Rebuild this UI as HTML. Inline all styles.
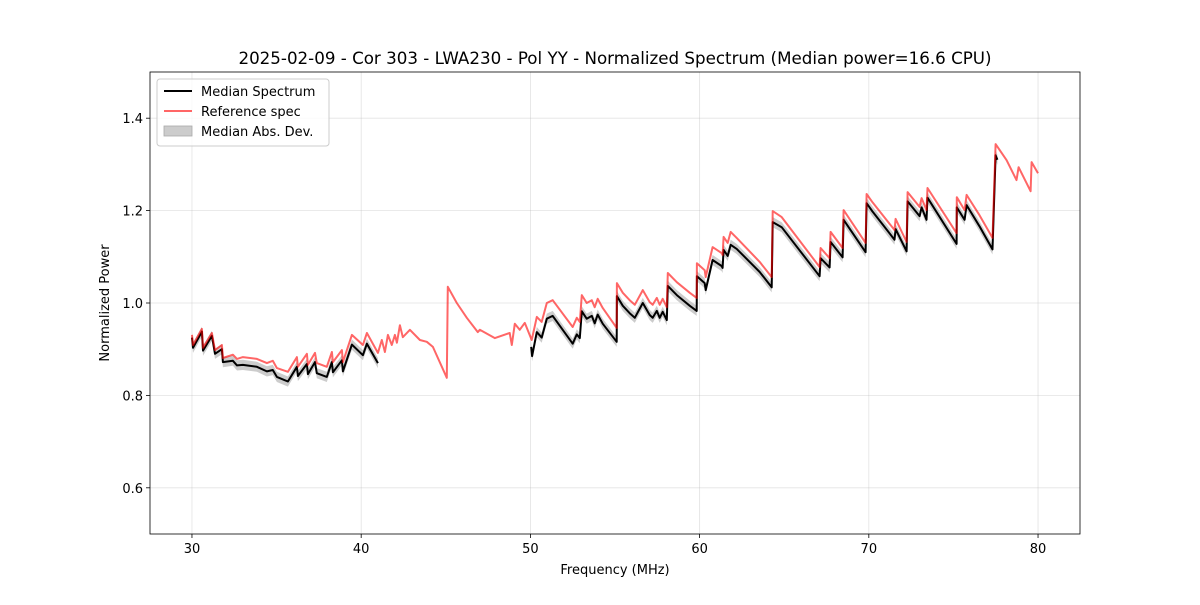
<!DOCTYPE html>
<html><head><meta charset="utf-8"><style>
body{margin:0;background:#fff;font-family:"Liberation Sans","DejaVu Sans",sans-serif}
svg text{font-family:"DejaVu Sans","Liberation Sans",sans-serif;fill:#000}
</style></head><body>
<svg id="chart" width="1200" height="600" xmlns="http://www.w3.org/2000/svg">
<rect width="1200" height="600" fill="#fff"/>
<text x="615" y="64" font-size="16.7" text-anchor="middle">2025-02-09 - Cor 303 - LWA230 - Pol YY - Normalized Spectrum (Median power=16.6 CPU)</text>
<g id="grid"></g><g id="band"></g><g id="lines"></g><g id="axes"></g>
<text x="615" y="574" font-size="13" text-anchor="middle">Frequency (MHz)</text>
<text transform="translate(109,303) rotate(-90)" font-size="13" text-anchor="middle">Normalized Power</text>
<g>
<rect x="157" y="79" width="172" height="67" rx="3" fill="#fff" fill-opacity="0.8" stroke="#ccc"/>
<line x1="164" y1="91" x2="192" y2="91" stroke="#000" stroke-width="2"/>
<text x="201" y="96" font-size="13">Median Spectrum</text>
<line x1="164" y1="111" x2="192" y2="111" stroke="#ff6666" stroke-width="2"/>
<text x="201" y="116" font-size="13">Reference spec</text>
<rect x="164" y="126" width="28" height="10" fill="#cccccc" stroke="#aaa" stroke-width="0.8"/>
<text x="201" y="136" font-size="13">Median Abs. Dev.</text>
</g>
</svg>
<script>
const refFreq=[30.00,30.06,30.59,30.65,31.18,31.36,31.77,31.83,32.42,32.66,33.01,33.84,34.43,34.78,35.02,35.67,36.20,36.26,36.79,36.85,37.27,37.38,37.97,38.27,38.33,38.86,38.92,39.45,40.10,40.34,40.99,41.22,41.40,41.58,41.81,41.99,42.11,42.29,42.46,42.88,43.47,43.88,44.24,45.06,45.12,45.65,46.24,46.89,47.01,47.90,48.78,48.90,49.08,49.37,49.67,50.08,50.26,50.38,50.67,50.97,51.32,52.50,52.74,52.92,53.04,53.33,53.63,53.80,53.98,54.28,55.10,55.11,55.46,55.87,56.17,56.64,57.05,57.23,57.47,57.64,57.82,58.06,58.12,58.65,59.42,59.83,59.84,60.30,60.36,60.77,61.30,61.36,61.42,61.66,61.84,62.19,63.55,64.26,64.32,64.85,67.09,67.15,67.68,67.74,68.45,68.51,69.81,69.87,70.22,71.52,71.58,72.23,72.29,73.00,73.12,73.41,73.47,75.19,75.20,75.66,75.78,76.54,77.31,77.49,78.14,78.73,78.85,79.56,79.62,80.00];
const refVals=[0.931,0.909,0.944,0.903,0.935,0.898,0.909,0.881,0.888,0.879,0.883,0.879,0.870,0.875,0.859,0.851,0.883,0.862,0.890,0.866,0.892,0.870,0.862,0.894,0.872,0.898,0.872,0.931,0.909,0.935,0.892,0.920,0.894,0.931,0.909,0.931,0.914,0.952,0.926,0.942,0.920,0.916,0.905,0.838,1.035,1.000,0.968,0.937,0.942,0.924,0.935,0.909,0.955,0.942,0.957,0.920,0.950,0.970,0.959,1.000,1.006,0.948,0.968,0.959,1.017,1.000,1.006,0.991,1.009,0.989,0.946,1.043,1.022,1.006,0.996,1.028,1.002,0.996,1.011,0.996,1.009,0.991,1.065,1.045,1.022,1.011,1.086,1.071,1.056,1.121,1.108,1.104,1.143,1.130,1.154,1.141,1.089,1.056,1.199,1.186,1.078,1.119,1.097,1.154,1.119,1.201,1.130,1.236,1.218,1.158,1.182,1.132,1.240,1.208,1.227,1.201,1.249,1.151,1.229,1.201,1.234,1.190,1.141,1.344,1.309,1.266,1.294,1.242,1.305,1.281];
const medFreqA=[30.00,30.06,30.59,30.65,31.18,31.36,31.77,31.83,32.42,32.66,33.01,33.84,34.43,34.78,35.02,35.67,36.20,36.26,36.79,36.85,37.27,37.38,37.97,38.27,38.33,38.86,38.92,39.45,40.10,40.34,40.99];
const medValsA=[0.925,0.903,0.938,0.897,0.929,0.890,0.900,0.872,0.875,0.865,0.866,0.862,0.852,0.855,0.840,0.830,0.862,0.842,0.868,0.846,0.872,0.848,0.840,0.872,0.850,0.876,0.852,0.910,0.887,0.912,0.870];
const medFreqB=[50.05,50.10,50.38,50.67,50.97,51.32,52.50,52.74,52.92,53.04,53.33,53.63,53.80,53.98,54.28,55.10,55.11,55.46,55.87,56.17,56.64,57.05,57.23,57.47,57.64,57.82,58.06,58.12,58.65,59.42,59.83,59.84,60.30,60.36,60.77,61.30,61.36,61.42,61.66,61.84,62.19,63.55,64.26,64.32,64.85,67.09,67.15,67.68,67.74,68.45,68.51,69.81,69.87,70.22,71.52,71.58,72.23,72.29,73.00,73.12,73.41,73.47,75.19,75.20,75.66,75.78,76.54,77.31,77.49,77.60];
const medValsB=[0.905,0.885,0.937,0.925,0.966,0.972,0.912,0.932,0.924,0.982,0.966,0.972,0.956,0.975,0.955,0.916,1.015,0.994,0.978,0.968,1.000,0.974,0.968,0.983,0.968,0.981,0.963,1.037,1.017,0.994,0.983,1.058,1.043,1.028,1.093,1.080,1.076,1.115,1.102,1.126,1.117,1.067,1.034,1.175,1.164,1.058,1.097,1.077,1.132,1.099,1.180,1.110,1.216,1.198,1.137,1.160,1.112,1.220,1.188,1.207,1.180,1.228,1.128,1.207,1.180,1.212,1.166,1.116,1.320,1.310];
const madWidth=0.011;
const xTicks=[30,40,50,60,70,80];
const yTicks=[0.6,0.8,1.0,1.2,1.4];

const L=150,R=1080,T=72,B=534,X0=27.52,X1=82.48,Y0=0.5,Y1=1.5;
const sx=f=>L+(f-X0)/(X1-X0)*(R-L);
const sy=v=>B-(v-Y0)/(Y1-Y0)*(B-T);
const NS='http://www.w3.org/2000/svg';
function mk(tag,attrs,parent){const e=document.createElementNS(NS,tag);for(const k in attrs)e.setAttribute(k,attrs[k]);parent.appendChild(e);return e;}
const grid=document.getElementById('grid'),axes=document.getElementById('axes'),band=document.getElementById('band'),lines=document.getElementById('lines');
xTicks.forEach(t=>{const x=sx(t);
 const g=mk('line',{x1:x,x2:x,y1:T,y2:B,stroke:'#b0b0b0','stroke-opacity':0.35,'stroke-width':0.8},grid);
 
 
 mk('line',{x1:x,x2:x,y1:B,y2:B+4,stroke:'#000','stroke-width':0.8},axes);
 const tx=mk('text',{x:x,y:B+19,'font-size':13,'text-anchor':'middle'},axes);tx.textContent=t;
 
 });
yTicks.forEach(t=>{const y=sy(t);
 const g=mk('line',{x1:L,x2:R,y1:y,y2:y,stroke:'#b0b0b0','stroke-opacity':0.35,'stroke-width':0.8},grid);
 
 
 mk('line',{x1:L-4,x2:L,y1:y,y2:y,stroke:'#000','stroke-width':0.8},axes);
 const tx=mk('text',{x:L-7,y:y+5,'font-size':13,'text-anchor':'end'},axes);tx.textContent=t.toFixed(1);
 
 });
const frame=mk('rect',{x:L,y:T,width:R-L,height:B-T,fill:'none',stroke:'#000','stroke-width':0.8},axes);


function pts(fs,vs,d){return fs.map((f,i)=>sx(f).toFixed(1)+','+sy(vs[i]+d).toFixed(1));}
[[medFreqA,medValsA],[medFreqB,medValsB]].forEach(([fs,vs])=>{
 const up=pts(fs,vs,madWidth),dn=pts(fs,vs,-madWidth).reverse();
 const p=mk('polygon',{points:up.concat(dn).join(' '),fill:'#bbbbbb','fill-opacity':0.75},band);
 
 
 const l=mk('polyline',{points:pts(fs,vs,0).join(' '),fill:'none',stroke:'#000','stroke-width':2,'stroke-linejoin':'round'},lines);
 
 });
const r=mk('polyline',{points:pts(refFreq,refVals,0).join(' '),fill:'none',stroke:'#ff0000','stroke-opacity':0.6,'stroke-width':2,'stroke-linejoin':'round'},lines);


</script>
</body></html>
